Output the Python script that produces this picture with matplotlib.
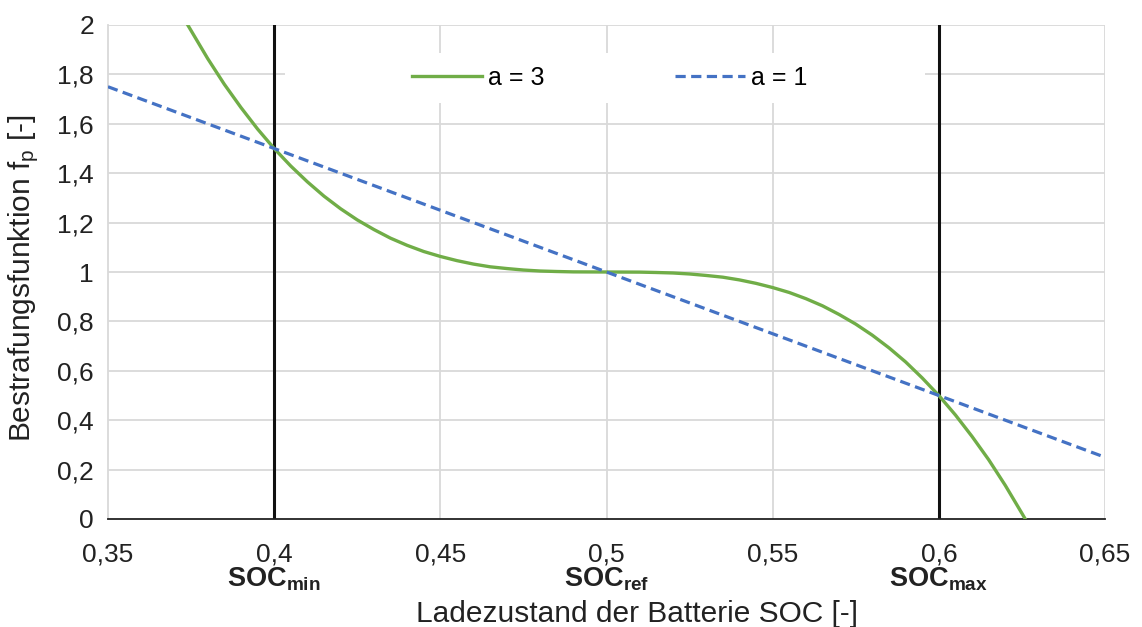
import numpy as np
import matplotlib.pyplot as plt
from matplotlib.patches import Rectangle

# Werte
soc_a3 = [0.374, 0.38, 0.385, 0.39, 0.395, 0.40, 0.405, 0.41, 0.415, 0.42, 0.425,
          0.43, 0.435, 0.44, 0.445, 0.45, 0.455, 0.46, 0.465, 0.47, 0.475, 0.48,
          0.485, 0.49, 0.50, 0.51, 0.515, 0.52, 0.525, 0.53, 0.535, 0.54, 0.545,
          0.55, 0.555, 0.56, 0.565, 0.57, 0.575, 0.58, 0.585, 0.59, 0.595, 0.60,
          0.605, 0.61, 0.615, 0.62, 0.625, 0.626]
fp_a3 = [2.0, 1.864, 1.760, 1.666, 1.579, 1.5, 1.429, 1.365, 1.307, 1.256, 1.211,
         1.172, 1.137, 1.108, 1.083, 1.063, 1.046, 1.032, 1.021, 1.014, 1.008, 1.004,
         1.002, 1.0005, 1.0, 0.9995, 0.998, 0.996, 0.992, 0.986, 0.979, 0.968, 0.954,
         0.937, 0.917, 0.892, 0.863, 0.828, 0.789, 0.744, 0.693, 0.636, 0.571, 0.5,
         0.421, 0.334, 0.240, 0.136, 0.023, 0.0]

soc_a1 = [0.35, 0.65]
fp_a1 = [1.75, 0.25]

soc_marks = [0.4, 0.5, 0.6]
soc_mark_labels = [r'$\mathbf{SOC_{min}}$', r'$\mathbf{SOC_{ref}}$', r'$\mathbf{SOC_{max}}$']
soc_limits = [0.4, 0.6]

xticks = [0.35, 0.4, 0.45, 0.5, 0.55, 0.6, 0.65]
yticks = [0, 0.2, 0.4, 0.6, 0.8, 1.0, 1.2, 1.4, 1.6, 1.8, 2.0]

plt.rcParams['font.family'] = ['Liberation Sans', 'DejaVu Sans']
plt.rcParams['mathtext.fontset'] = 'custom'
plt.rcParams['mathtext.rm'] = 'Liberation Sans'
plt.rcParams['mathtext.bf'] = 'Liberation Sans:bold'
plt.rcParams['mathtext.it'] = 'Liberation Sans:italic'

W, H = 1142, 627
fig = plt.figure(figsize=(W / 100, H / 100), dpi=100)
ax = fig.add_axes([108 / W, 1 - 519 / H, (1105 - 108) / W, (519 - 25) / H])

grid_col = '#d9d9d9'
txt_col = '#222222'
for x in xticks[1:]:
    ax.axvline(x, color=grid_col, lw=1.3, zorder=0)
for y in yticks[1:]:
    ax.axhline(y, color=grid_col, lw=1.3, zorder=0)

for x in soc_limits:
    ax.axvline(x, color='#111111', lw=2.2, zorder=2)

ax.plot(soc_a3, fp_a3, color='#70ad47', lw=2.4, label='a = 3', zorder=3)
ax.plot(soc_a1, fp_a1, color='#4472c4', lw=2.3, ls=(0, (3.2, 1.7)), label='a = 1', zorder=3)

ax.set_xlim(0.35, 0.65)
ax.set_ylim(0, 2)
ax.set_xticks(xticks)
ax.set_yticks(yticks)
ax.set_xticklabels([('%g' % v).replace('.', ',') for v in xticks], fontsize=19, color=txt_col)
ax.set_yticklabels([('%g' % v).replace('.', ',') for v in yticks], fontsize=19, color=txt_col)
ax.tick_params(length=0, pad=10)
ax.tick_params(axis='x', pad=17)

for s in ['top', 'right']:
    ax.spines[s].set_visible(False)
ax.spines['left'].set_color(grid_col)
ax.spines['left'].set_linewidth(1.3)
ax.spines['bottom'].set_color(txt_col)
ax.spines['bottom'].set_linewidth(1.3)

for x, lab in zip(soc_marks, soc_mark_labels):
    ax.text(x, -0.245, lab, ha='center', va='center', fontsize=19.5, color=txt_col)

fig.text(637 / W, 1 - 622 / H, 'Ladezustand der Batterie SOC [-]', ha='center', va='baseline',
         fontsize=21.5, color=txt_col)
fig.text(24 / W, 1 - 278 / H, r'Bestrafungsfunktion f$_\mathregular{p}$ [-]', rotation=90,
         ha='center', va='center', fontsize=21.5, color=txt_col)

# weisser Hintergrund der Legende
ax.add_patch(Rectangle((0.1775, 0.842), 0.642, 0.101, transform=ax.transAxes,
                       facecolor='white', edgecolor='none', zorder=1))
leg = ax.legend(loc='center', bbox_to_anchor=(0.503, 0.893), ncol=2, frameon=False,
                fontsize=18, handlelength=2.8, handletextpad=0.24, columnspacing=5.2)
leg.set_zorder(4)

plt.savefig('out.png', dpi=100)
